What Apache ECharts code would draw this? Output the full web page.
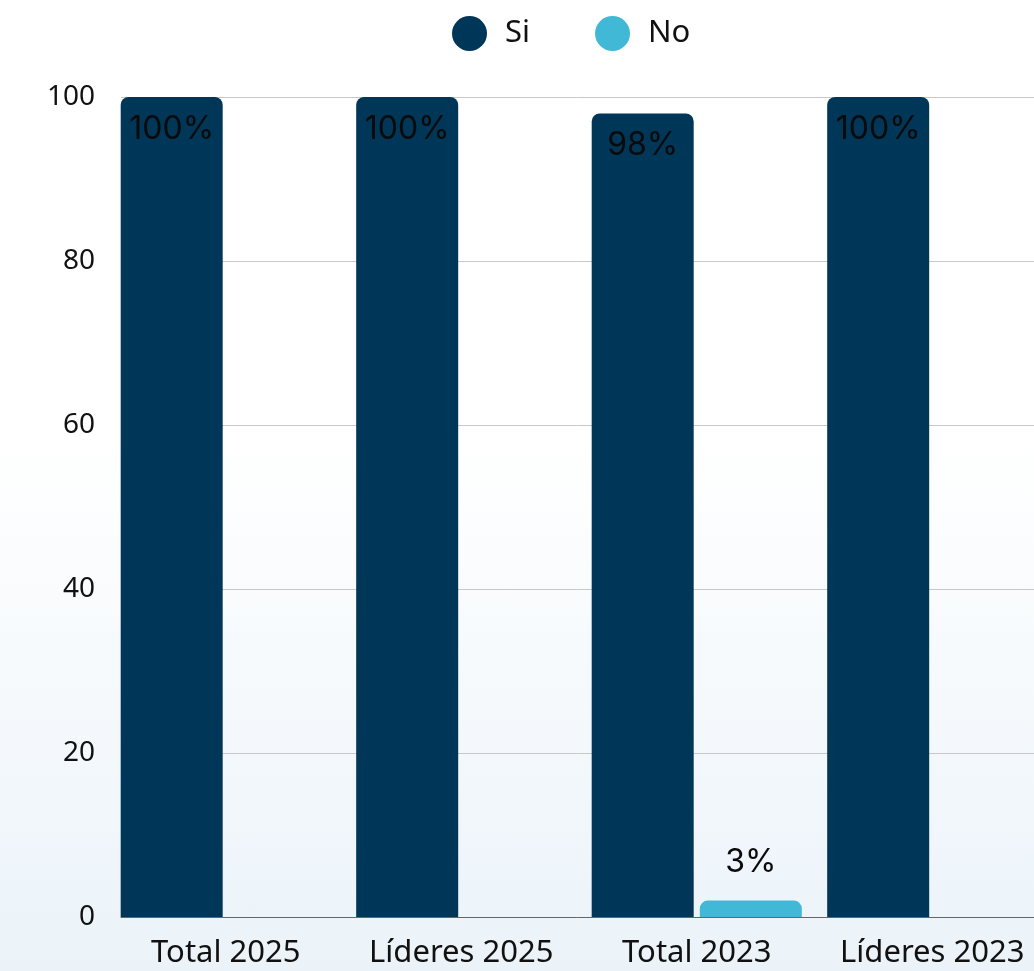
<!DOCTYPE html>
<html><head><meta charset="utf-8">
<script src="https://cdn.jsdelivr.net/npm/echarts@6/dist/echarts.min.js"></script>
<style>html,body{margin:0;padding:0;}#c{width:1034px;height:971px;background:linear-gradient(to bottom,#ffffff 0%,#ffffff 45%,#ebf3f9 100%);}</style>
</head><body><div id="c"></div>
<script>
const categories = ['Total 2025', 'Líderes 2025', 'Total 2023', 'Líderes 2023'];
const siValues = [100, 100, 98, 100];
const noValues = [null, null, 2, null];
const siLabels = ['100%', '100%', '98%', '100%'];
const noLabels = ['', '', '3%', ''];
const yTicks = [0, 20, 40, 60, 80, 100];

const chart = echarts.init(document.getElementById('c'), null, {renderer: 'canvas'});
const axisFont = '"Noto Sans", sans-serif';
const labelFont = 'Inter, sans-serif';
chart.setOption({
  backgroundColor: 'transparent',
  animation: false,
  legend: {
    top: 16, left: 452, padding: 0, itemWidth: 35, itemHeight: 35, itemGap: 65, icon: 'circle',
    textStyle: {fontSize: 31, fontFamily: axisFont, color: '#111', padding: [0, 0, 0, 13]},
    data: ['Si', 'No']
  },
  grid: [
    {left: 108, width: 942, top: 97, bottom: 54, containLabel: false, outerBoundsMode: 'none'},
    {left: 121, right: 0, top: 97, bottom: 54, containLabel: false, outerBoundsMode: 'none'}
  ],
  xAxis: [
    {type: 'category', gridIndex: 0, data: categories,
     axisLine: {show: false}, axisTick: {show: false},
     axisLabel: {interval: 0, fontSize: 31, fontFamily: axisFont, color: '#111', margin: 21}},
    {type: 'value', gridIndex: 1, min: 0, max: 1, show: true,
     axisLine: {show: true, onZero: false, lineStyle: {color: '#666', width: 1}},
     axisTick: {show: false}, axisLabel: {show: false}, splitLine: {show: false}}
  ],
  yAxis: [
    {type: 'value', gridIndex: 0, min: yTicks[0], max: yTicks[yTicks.length - 1], interval: 20,
     axisLine: {show: false}, axisTick: {show: false}, splitLine: {show: false},
     axisLabel: {fontSize: 28, fontFamily: axisFont, color: '#111', margin: 13}},
    {type: 'value', gridIndex: 1, min: yTicks[0], max: yTicks[yTicks.length - 1], interval: 20,
     axisLine: {show: false}, axisTick: {show: false}, axisLabel: {show: false},
     splitLine: {show: true, lineStyle: {color: '#c8c8c8', width: 1}}}
  ],
  series: [
    {name: 'Si', type: 'bar', xAxisIndex: 0, yAxisIndex: 0, data: siValues,
     barWidth: 102, barGap: '6%',
     itemStyle: {color: '#003657', borderRadius: [8, 8, 0, 0]},
     label: {show: true, position: 'insideTop', distance: 16, fontSize: 32, fontFamily: labelFont,
             color: '#0a0a0a', formatter: p => siLabels[p.dataIndex]}},
    {name: 'No', type: 'bar', xAxisIndex: 0, yAxisIndex: 0, data: noValues,
     barWidth: 102, barGap: '6%',
     itemStyle: {color: '#42B8D7', borderRadius: [8, 8, 0, 0]},
     label: {show: true, position: 'top', distance: 22, fontSize: 32, fontFamily: labelFont,
             color: '#0a0a0a', formatter: p => noLabels[p.dataIndex]}}
  ]
});
</script></body></html>
